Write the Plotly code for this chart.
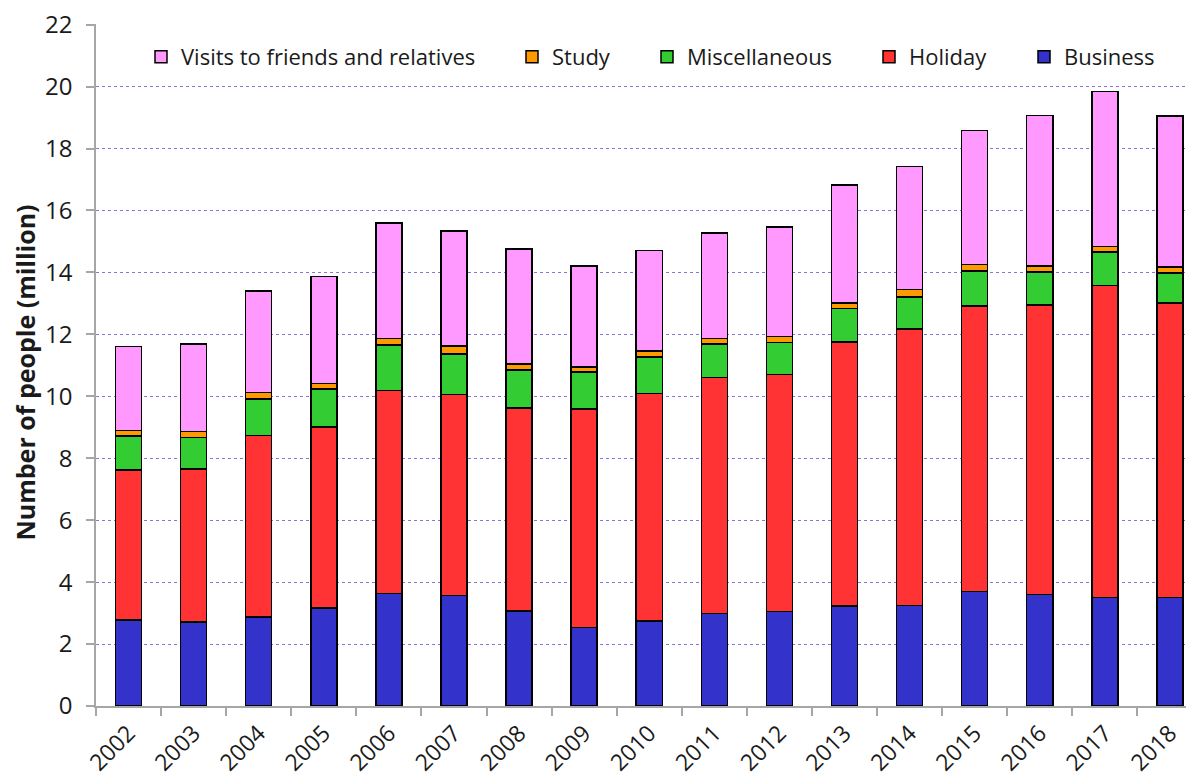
import plotly.graph_objects as go

years = [str(y) for y in range(2002, 2019)]
business = [2.77, 2.71, 2.88, 3.16, 3.63, 3.57, 3.07, 2.53, 2.75, 2.98, 3.05, 3.23, 3.25, 3.69, 3.60, 3.51, 3.50]
holiday = [4.85, 4.94, 5.85, 5.85, 6.56, 6.49, 6.55, 7.06, 7.34, 7.63, 7.66, 8.52, 8.92, 9.23, 9.35, 10.06, 9.51]
misc = [1.09, 1.02, 1.19, 1.22, 1.46, 1.30, 1.23, 1.19, 1.18, 1.08, 1.03, 1.09, 1.04, 1.12, 1.07, 1.09, 0.97]
study = [0.18, 0.20, 0.21, 0.19, 0.22, 0.27, 0.20, 0.17, 0.20, 0.18, 0.19, 0.17, 0.23, 0.21, 0.19, 0.18, 0.20]
vfr = [2.71, 2.82, 3.27, 3.45, 3.72, 3.70, 3.70, 3.25, 3.23, 3.41, 3.54, 3.81, 3.98, 4.33, 4.85, 5.00, 4.87]

# (name, values, colour, legend id, legend left edge in page px)
series = [
    ("Business", business, "#3333cc", "legend5", 1024.0),
    ("Holiday", holiday, "#ff3333", "legend4", 869.0),
    ("Miscellaneous", misc, "#33cc33", "legend3", 647.0),
    ("Study", study, "#ff9900", "legend2", 512.0),
    ("Visits to friends and relatives", vfr, "#ff99ff", "legend", 141.0),
]

OFF = 8  # page body margin
W, H = 1194 - OFF, 776 - OFF
FONT = "Open Sans"
TXT = "#1a1a1a"

fig = go.Figure()
for name, vals, color, lg, _ in series:
    fig.add_trace(go.Bar(
        x=years, y=vals, name=name, legend=lg, showlegend=True,
        marker=dict(color=color, line=dict(color="#000000", width=1.5)),
    ))

layout_legends = {}
for name, vals, color, lg, lx in series:
    layout_legends[lg] = dict(
        xref="container", yref="container",
        x=(lx - OFF) / W, y=1 - (57 - OFF) / H, xanchor="left", yanchor="middle",
        orientation="h", bgcolor="rgba(0,0,0,0)",
        font=dict(family=FONT, size=22, color=TXT),
    )

fig.update_layout(
    width=W, height=H, showlegend=True,
    margin=dict(l=88, r=0, t=16, b=70, autoexpand=False),
    barmode="stack", bargap=0.6,
    plot_bgcolor="white", paper_bgcolor="white",
    font=dict(family=FONT, size=22, color=TXT),
    **layout_legends,
)

fig.update_xaxes(
    type="category", range=[-0.5, 16.37],
    tickson="boundaries", ticks="outside", ticklen=8, tickwidth=1.5, tickcolor="#a6a6a6",
    showline=True, linecolor="#a6a6a6", linewidth=1.5, showgrid=False,
    tickangle=-45, tickfont=dict(family=FONT, size=23, color=TXT), automargin=False,
    ticklabeloverflow="allow", ticklabelstandoff=3,
)
fig.update_yaxes(
    range=[0, 22.02], dtick=2, tick0=0,
    showgrid=True, gridcolor="#9370DB", griddash="dot", gridwidth=1,
    ticks="outside", ticklen=8, tickwidth=1.5, tickcolor="#a6a6a6",
    showline=True, linecolor="#a6a6a6", linewidth=1.5, zeroline=False,
    ticklabelstandoff=9, ticklabeloverflow="allow",
    tickfont=dict(family=FONT, size=24, color=TXT), automargin=False,
)

fig.add_annotation(
    text="<b>Number of people (million)</b>", textangle=-90,
    xref="paper", yref="paper", x=(24 - 96) / 1098, y=(706 - 372.5) / 682,
    xanchor="center", yanchor="middle", showarrow=False,
    font=dict(family=FONT, size=25, color=TXT),
)

fig.write_html("out.html")
